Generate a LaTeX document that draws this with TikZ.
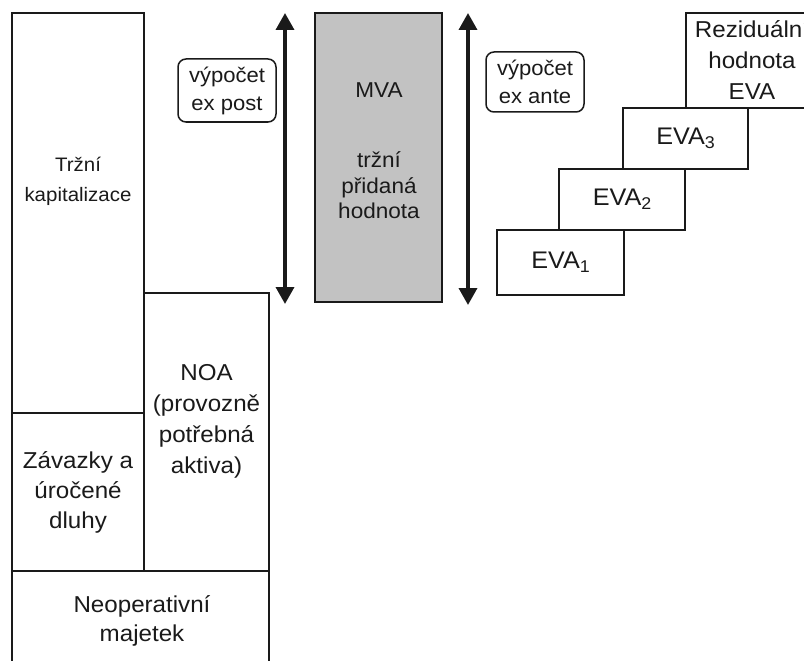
\documentclass[tikz,border=0pt]{standalone}
\usepackage{fontspec}
\setmainfont{Liberation Sans}[FakeStretch=1.05]
\usetikzlibrary{arrows.meta}
\definecolor{ink}{HTML}{1A1A1A}
\definecolor{mvagray}{HTML}{C2C2C2}
\newcommand{\fbig}{\fontsize{23}{30}\selectfont}
\newcommand{\fmva}{\fontsize{21.5}{25.5}\selectfont}
\newcommand{\fsml}{\fontsize{19.5}{30}\selectfont}
\newcommand{\ftag}{\fontsize{21}{28}\selectfont}
\newcommand{\feva}{\fontsize{24}{30}\selectfont}
\newcommand{\evasub}[1]{\raisebox{-4pt}{\fontsize{17}{17}\selectfont #1}}
\begin{document}
\begin{tikzpicture}[x=1pt,y=-1pt]
\tikzset{
  box/.style={draw=ink, line width=1.5pt, inner sep=0pt, outer sep=0pt,
    anchor=north west, align=center, text=ink, font=\fbig},
  txt/.style={inner sep=0pt, outer sep=0pt, align=center, text=ink},
  tagbox/.style={draw=ink, line width=1.5pt, rounded corners=8pt, inner sep=0pt,
    outer sep=0pt, align=center, text=ink, font=\ftag},
  dblarrow/.style={line width=3.5pt, draw=ink,
    {Triangle[width=18pt,length=17pt]}-{Triangle[width=18pt,length=17pt]}},
}
\useasboundingbox (0,0) rectangle (804,661);
\clip (0,0) rectangle (804,661);
\fill[white] (0,0) rectangle (804,661);

% left stack
\node[box, minimum width=132pt, minimum height=400pt] (kap) at (12,13) {};
\node[txt, font=\fsml] (kapt) at (78,181) {Tržní\\kapitalizace};
\node[box, minimum width=132pt, minimum height=158pt] (zav) at (12,413) {Závazky a\\úročené\\dluhy};
\node[box, minimum width=125pt, minimum height=278pt] (noa) at (144,293) {};
\node[txt, font=\fontsize{23}{31}\selectfont] (noat) at (206.5,421) {NOA\\(provozně\\potřebná\\aktiva)};
\node[box, minimum width=257pt, minimum height=140pt] (neo) at (12,571) {};
\node[txt, font=\fontsize{23}{29}\selectfont] (neot) at (142,621) {Neoperativní\\majetek};

% ex post
\coordinate (a1t) at (285,13);
\coordinate (a1b) at (285,304);
\draw[dblarrow] (a1t) -- (a1b);
\node[tagbox, minimum width=98pt, minimum height=63pt] (expost) at (227,90.5) {výpočet\\ex post};

% MVA
\node[box, fill=mvagray, minimum width=127pt, minimum height=289pt] (mva) at (315,13) {};
\node[txt, font=\fmva] (mvat) at (379,151) {MVA\\[44.5pt]tržní\\přidaná\\hodnota};

% ex ante
\coordinate (a2t) at (468,13);
\coordinate (a2b) at (468,305);
\draw[dblarrow] (a2t) -- (a2b);
\node[tagbox, minimum width=98pt, minimum height=60pt] (exante) at (535,82) {výpočet\\ex ante};

% EVA staircase
\node[box, minimum width=127pt, minimum height=65pt, font=\feva] (eva1) at (497,230) {EVA\evasub{1}};
\node[box, minimum width=126pt, minimum height=61pt, font=\feva] (eva2) at (559,169) {EVA\evasub{2}};
\node[box, minimum width=125pt, minimum height=61pt, font=\feva] (eva3) at (623,108) {EVA\evasub{3}};
\node[box, minimum width=132pt, minimum height=95pt, font=\fontsize{23}{31}\selectfont] (rez) at (686,13) {Reziduální\\hodnota\\EVA};
\end{tikzpicture}
\end{document}
